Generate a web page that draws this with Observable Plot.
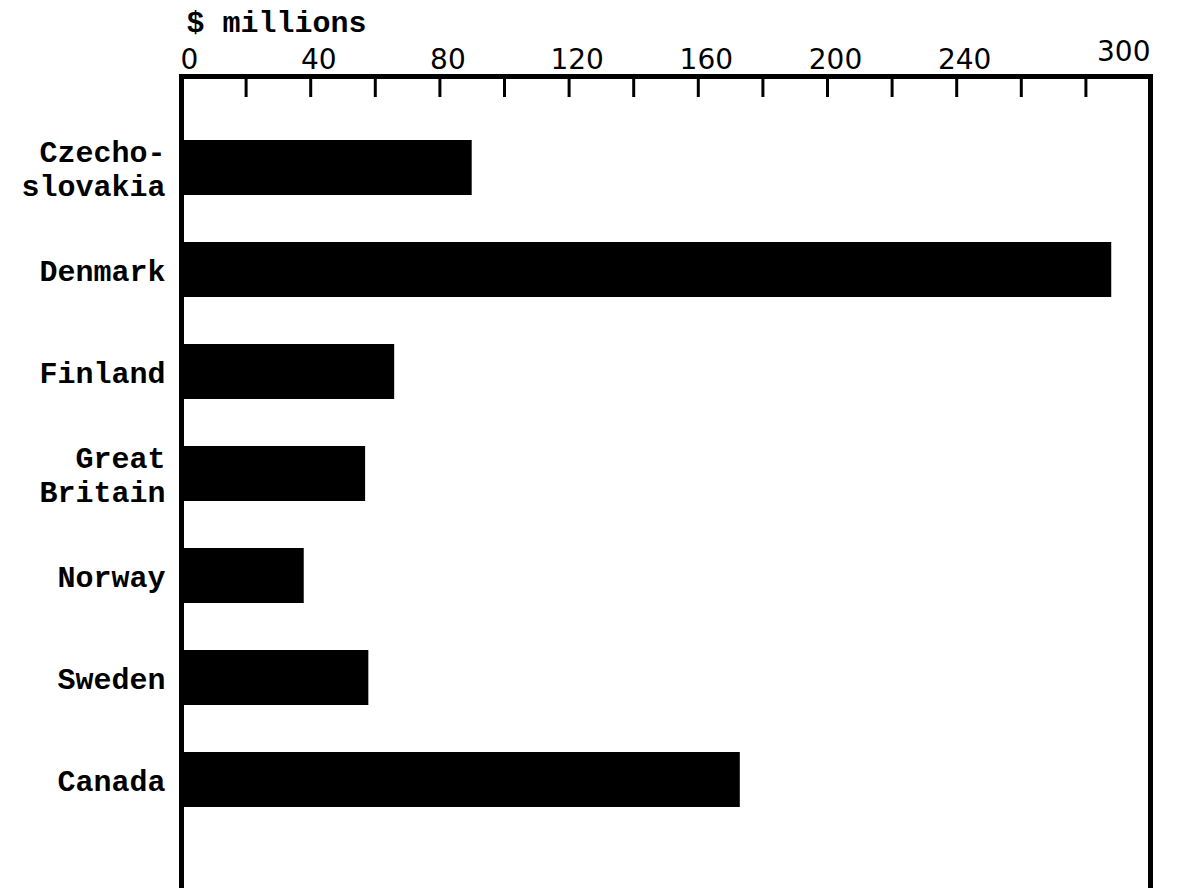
<!DOCTYPE html>
<html>
<head>
<meta charset="utf-8">
<script src="https://cdn.jsdelivr.net/npm/d3@7"></script>
<script src="https://cdn.jsdelivr.net/npm/@observablehq/plot@0.6"></script>
<style>
  html, body { margin: 0; padding: 0; background: #fff; overflow: hidden; }
</style>
</head>
<body>
<div id="chart"></div>
<script>
// Data
const countries = ["Czechoslovakia", "Denmark", "Finland", "Great Britain", "Norway", "Sweden", "Canada"];
const countryLabels = ["Czecho-\nslovakia", "Denmark", "Finland", "Great\nBritain", "Norway", "Sweden", "Canada"];
const values = [90, 288, 66, 57, 38, 58, 173]; // $ millions

// Axis ticks and labels
const tickMarks = [20, 40, 60, 80, 100, 120, 140, 160, 180, 200, 220, 240, 260, 280];
const tickLabels = [0, 40, 80, 120, 160, 200, 240];
const endLabel = [300];
const xLabel = "$ millions";

const data = countries.map((c, i) => ({country: c, value: values[i]}));
const labelOf = new Map(countries.map((c, i) => [c, countryLabels[i]]));

const mono = "'Liberation Mono', 'DejaVu Sans Mono', monospace";
const sans = "'DejaVu Sans', 'Liberation Sans', sans-serif";

const chart = Plot.plot({
  width: 1203,
  height: 892,
  marginLeft: 181,
  marginRight: 53,
  marginTop: 76,
  marginBottom: 0,
  style: {background: "#fff", color: "#000"},
  x: {domain: [0, 300]},
  y: {domain: countries, range: [139, 808], paddingInner: 0.46, paddingOuter: 0},
  marks: [
    Plot.barX(data, {x: "value", y: "country", fill: "#000"}),
    Plot.frame({stroke: "#000", strokeWidth: 5}),
    Plot.axisY({
      tickSize: 0, tickPadding: 16,
      tickFormat: d => labelOf.get(d),
      fontFamily: mono, fontSize: 30, fontWeight: "bold", lineHeight: 1.12,
      fill: "#000", label: null
    }),
    Plot.axisX({
      anchor: "top", ticks: tickMarks, tickSize: -20, strokeWidth: 3,
      tickFormat: () => "", stroke: "#000", label: null
    }),
    Plot.axisX({
      anchor: "top", ticks: tickLabels, tickSize: 0, tickPadding: 8, dx: 8,
      fontFamily: sans, fontSize: 28, fill: "#000", label: null
    }),
    Plot.axisX({
      anchor: "top", ticks: endLabel, tickSize: 0, tickPadding: 16,
      textAnchor: "end",
      fontFamily: sans, fontSize: 28, fill: "#000", label: null
    }),
    Plot.text([xLabel], {
      text: d => d, frameAnchor: "top-left", textAnchor: "start",
      lineAnchor: "bottom", dx: 5, dy: -45,
      fontFamily: mono, fontSize: 30, fontWeight: "bold", fill: "#000"
    })
  ]
});
document.getElementById("chart").appendChild(chart);
</script>
</body>
</html>
